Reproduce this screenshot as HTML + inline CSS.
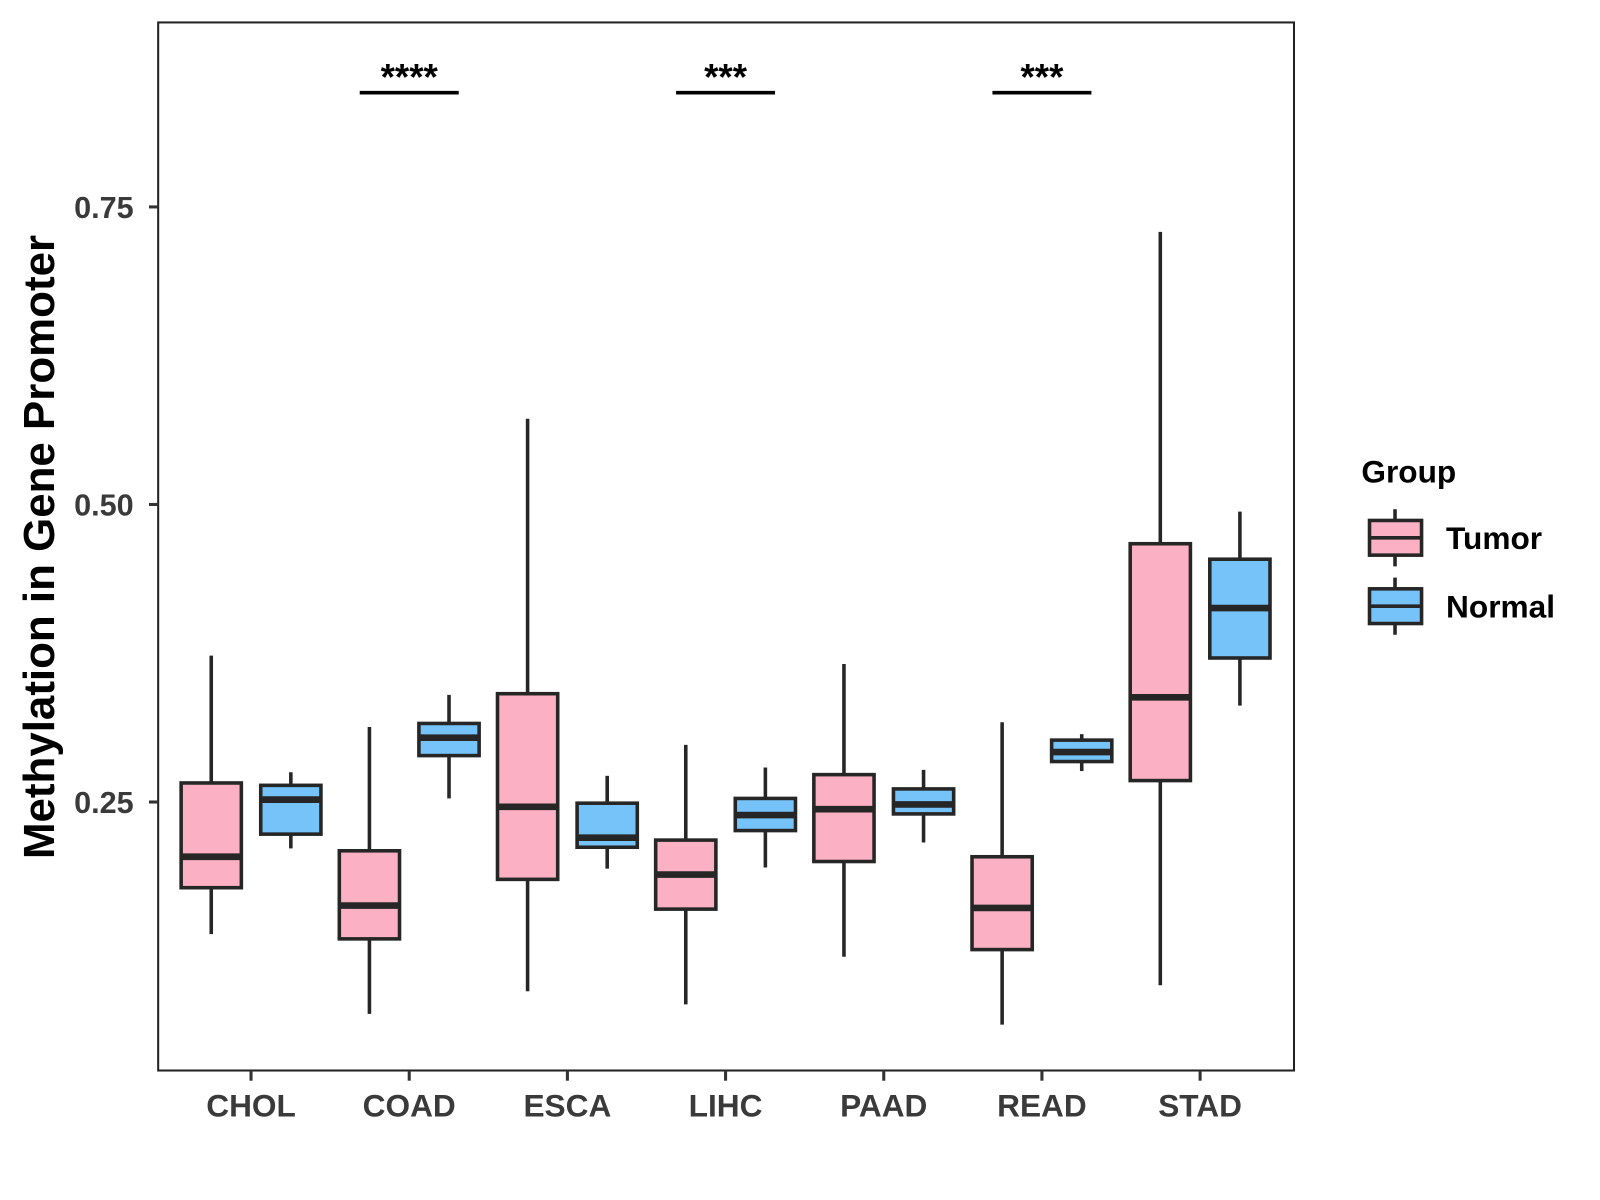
<!DOCTYPE html>
<html><head><meta charset="utf-8"><style>
html,body{margin:0;padding:0;background:#fff;}
svg{display:block;font-family:"Liberation Sans",Arial,sans-serif;}
</style></head><body>
<svg id="chart" width="1600" height="1200" viewBox="0 0 1600 1200">
<g id="root" transform="scale(1.0205)"></g>
</svg>
<script>
const categories = ["CHOL","COAD","ESCA","LIHC","PAAD","READ","STAD"];
// [lowerWhisker, Q1, median, Q3, upperWhisker]
const tumorStats = [
  [0.139,0.178,0.204,0.266,0.373],
  [0.072,0.135,0.163,0.209,0.313],
  [0.091,0.185,0.246,0.341,0.572],
  [0.080,0.160,0.189,0.218,0.298],
  [0.120,0.200,0.244,0.273,0.366],
  [0.063,0.126,0.161,0.204,0.317],
  [0.096,0.268,0.338,0.467,0.729]
];
const normalStats = [
  [0.211,0.223,0.252,0.264,0.275],
  [0.253,0.289,0.304,0.316,0.340],
  [0.194,0.212,0.220,0.249,0.272],
  [0.195,0.226,0.239,0.253,0.279],
  [0.216,0.240,0.248,0.261,0.277],
  [0.276,0.284,0.292,0.302,0.307],
  [0.331,0.371,0.413,0.454,0.494]
];
const yTicks = [0.25,0.50,0.75];
const yTickLabels = ["0.25","0.50","0.75"];
const sigCategories = ["COAD","LIHC","READ"];
const sigLabels = ["****","***","***"];
const sigLevel = 0.846;

const NS="http://www.w3.org/2000/svg";
const root=document.getElementById('root');
const L=155,T=22,R=1268,B=1049;
const yMin=0.0244, yMax=0.905;
function y(v){return B-(v-yMin)/(yMax-yMin)*(B-T);}
const step=155, x0=246;
function x(i){return x0+i*step;}
function mk(tag,attrs,parent){const e=document.createElementNS(NS,tag);for(const k in attrs)e.setAttribute(k,attrs[k]);(parent||root).appendChild(e);return e;}
const ink="#262626";

function drawBox(s,cx,fill,name){
  const g=mk('g',{});
  
  
  const hw=29.5;
  mk('line',{x1:cx,x2:cx,y1:y(s[4]),y2:y(s[3]),stroke:ink,'stroke-width':3.5},g);
  mk('line',{x1:cx,x2:cx,y1:y(s[1]),y2:y(s[0]),stroke:ink,'stroke-width':3.5},g);
  mk('rect',{x:cx-hw,y:y(s[3]),width:hw*2,height:y(s[1])-y(s[3]),fill:fill,stroke:ink,'stroke-width':3.5},g);
  mk('line',{x1:cx-hw,x2:cx+hw,y1:y(s[2]),y2:y(s[2]),stroke:ink,'stroke-width':6.5},g);
}
categories.forEach((c,i)=>{
  drawBox(tumorStats[i],x(i)-39,"#FCB0C3","box-tumor-"+c.toLowerCase());
  drawBox(normalStats[i],x(i)+39,"#75C3F8","box-normal-"+c.toLowerCase());
});
const border=mk('rect',{x:L,y:T,width:R-L,height:B-T,fill:'none',stroke:'#222','stroke-width':2});


yTicks.forEach((v,i)=>{
  mk('line',{x1:L-9,x2:L,y1:y(v),y2:y(v),stroke:'#333','stroke-width':3});
  const t=mk('text',{x:L-24,y:y(v)+11,'text-anchor':'end','font-size':30,'font-weight':'bold',fill:'#3a3a3a'});
  t.textContent=yTickLabels[i];
  
  
});
categories.forEach((c,i)=>{
  mk('line',{x1:x(i),x2:x(i),y1:B,y2:B+10,stroke:'#333','stroke-width':3});
  const t=mk('text',{x:x(i),y:B+45,'text-anchor':'middle','font-size':31,'font-weight':'bold',fill:'#3a3a3a'});
  t.textContent=c;
  
  
});
sigCategories.forEach((c,k)=>{
  const i=categories.indexOf(c);
  mk('line',{x1:x(i)-48.5,x2:x(i)+48.5,y1:y(sigLevel),y2:y(sigLevel),stroke:'#000','stroke-width':3.5});
  const t=mk('text',{x:x(i),y:y(sigLevel)-3,'text-anchor':'middle','font-size':36,'font-weight':'bold',fill:'#000'});
  t.textContent=sigLabels[k];
  
  
});
const yt=mk('text',{x:0,y:0,transform:'translate(53,536) rotate(-90)','text-anchor':'middle','font-size':43,'font-weight':'bold',fill:'#000'});
yt.textContent='Methylation in Gene Promoter';


const lg=mk('g',{});


const lt=mk('text',{x:1334,y:473,'font-size':31,'font-weight':'bold',fill:'#000'},lg);
lt.textContent='Group';
[["Tumor","#FCB0C3",527],["Normal","#75C3F8",594]].forEach(([lab,col,cy])=>{
  const e=mk('g',{},lg);
  
  
  mk('line',{x1:1367,x2:1367,y1:cy-28,y2:cy+28,stroke:ink,'stroke-width':3.5},e);
  mk('rect',{x:1342,y:cy-17,width:51,height:34,fill:col,stroke:ink,'stroke-width':3.5},e);
  mk('line',{x1:1342,x2:1393,y1:cy,y2:cy,stroke:ink,'stroke-width':3.5},e);
  const t=mk('text',{x:1417,y:cy+11,'font-size':31,'font-weight':'bold',fill:'#000'},e);
  t.textContent=lab;
});
</script>
</body></html>
